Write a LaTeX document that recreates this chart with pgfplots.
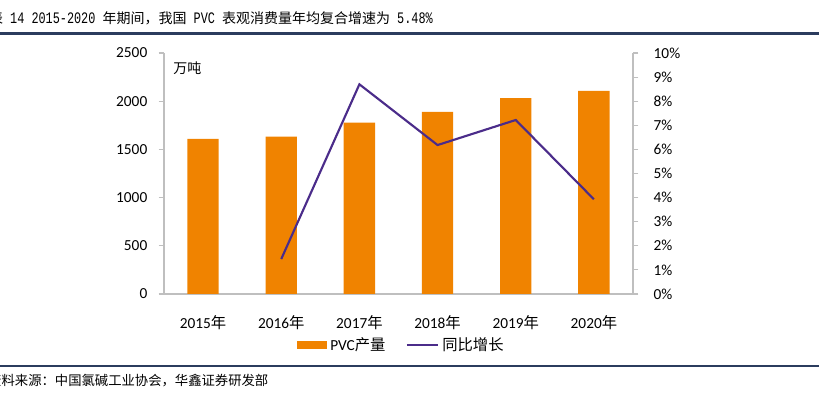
\documentclass[border=0pt]{standalone}
\usepackage{fontspec}
\setmainfont{Carlito}
\newfontfamily\cjk{Noto Sans CJK SC}
\newfontfamily\monof[FakeStretch=0.74]{Liberation Mono}
\usepackage{pgfplots}
\pgfplotsset{compat=1.18}
\definecolor{barorange}{HTML}{F08300}
\definecolor{linepurple}{HTML}{4B2C8A}
\definecolor{axgray}{HTML}{BFBFBF}
\definecolor{navy}{HTML}{2B3C5E}
\newcommand{\tl}[1]{{\monof\fontsize{12}{12}\selectfont #1}}
\begin{document}
\begin{tikzpicture}[x=0.75pt,y=0.75pt]
% pixel (px,py) -> (px-164, 294-py)
\path[use as bounding box] (-164,-104) rectangle (655,294);
\begin{axis}[
  at={(0,0)}, anchor=south west,
  scale only axis, width=351.75pt, height=180.75pt,
  xmin=-0.5, xmax=5.5, ymin=0, ymax=2500,
  axis y line*=left, axis x line*=bottom,
  axis line style={axgray, line width=0.8pt},
  ytick={0,500,1000,1500,2000,2500},
  xtick={0,...,5},
  xticklabels={2015{\cjk 年},2016{\cjk 年},2017{\cjk 年},2018{\cjk 年},2019{\cjk 年},2020{\cjk 年}},
  extra x ticks={-0.5,0.5,1.5,2.5,3.5,4.5,5.5},
  extra x tick labels={},
  extra x tick style={major tick length=4pt, tick style={axgray, line width=0.8pt}, tick pos=left},
  major x tick style={draw=none},
  x tick label style={yshift=-9pt},
  y tick label style={xshift=-5pt},
  tick style={axgray, line width=0.8pt},
  major tick length=4pt,
  tick align=outside,
  tick label style={font=\fontsize{11.5}{13}\selectfont, text=black},
  /pgf/number format/assume math mode=true,
  /pgf/number format/set thousands separator={},
  ybar, bar width=23.5pt,
  clip=false,
]
\addplot[fill=barorange, draw=none] coordinates {(0,1608) (1,1632) (2,1777) (3,1888) (4,2033) (5,2106)};
\node[anchor=north west, font=\cjk\fontsize{10.5}{12}\selectfont] at (rel axis cs:0.01,0.985) {万吨};
\end{axis}
\begin{axis}[
  at={(0,0)}, anchor=south west,
  scale only axis, width=351.75pt, height=180.75pt,
  xmin=-0.5, xmax=5.5, ymin=0, ymax=10,
  axis y line*=right, axis x line=none,
  axis line style={axgray, line width=0.8pt},
  ytick={0,1,...,10},
  yticklabel={\pgfmathprintnumber{\tick}\%},
  y tick label style={xshift=8pt},
  tick style={axgray, line width=0.8pt},
  major tick length=4pt,
  tick align=outside,
  tick label style={font=\fontsize{11.5}{13}\selectfont, text=black},
  /pgf/number format/assume math mode=true,
  clip=false,
]
\addplot[linepurple, line width=1.6pt] coordinates {(1,1.45) (2,8.70) (3,6.18) (4,7.22) (5,3.93)};
\end{axis}
% legend
\fill[barorange] (297-164,294-341) rectangle (327-164,294-349);
\node[anchor=west, font=\fontsize{11.5}{13}\selectfont, inner sep=0pt] at (330-164,294-345) {PVC{\cjk 产量}};
\draw[linepurple, line width=1.6pt] (407-164,294-345) -- (438-164,294-345);
\node[anchor=west, font=\cjk\fontsize{11.5}{13}\selectfont, inner sep=0pt] at (442-164,294-345) {同比增长};
% title
\node[anchor=base east, inner sep=0pt, font=\cjk\fontsize{10.5}{12}\selectfont] at (433-164,294-24)
 {表\tl{ 14 2015-2020 }年期间，我国\tl{ PVC }表观消费量年均复合增速为\tl{ 5.48\%}};
\draw[navy, line width=1.6pt] (-164,294-33.5) -- (655,294-33.5);
\draw[navy, line width=1.6pt] (-164,294-366) -- (655,294-366);
\node[anchor=base west, inner sep=0pt, font=\cjk\fontsize{10}{12}\selectfont] at (-164-12,294-386) {资料来源：中国氯碱工业协会，华鑫证券研发部};
\end{tikzpicture}
\end{document}
